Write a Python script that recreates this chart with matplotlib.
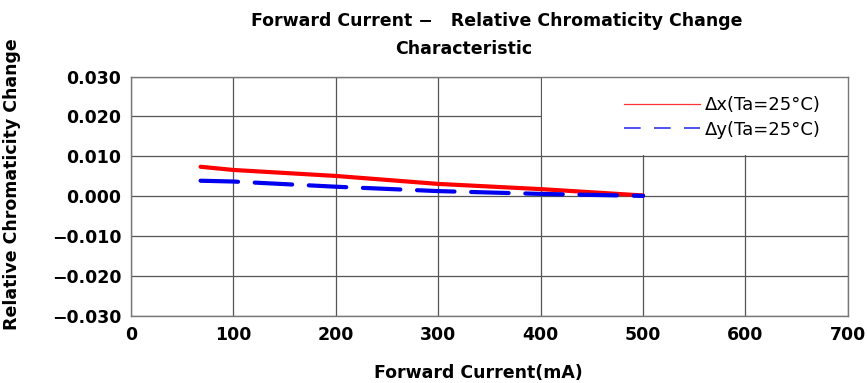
import matplotlib.pyplot as plt
from matplotlib.lines import Line2D
from matplotlib.patches import Rectangle

# forward current (mA)
current = [68, 100, 200, 300, 400, 500]

# relative chromaticity shift at Ta=25C
dx = [0.0074, 0.0066, 0.0051, 0.0031, 0.0018, 0.0002]
dy = [0.0039, 0.0037, 0.0024, 0.0013, 0.0006, 0.0001]

x_ticks = [0, 100, 200, 300, 400, 500, 600, 700]
y_ticks = [-0.030, -0.020, -0.010, 0.000, 0.010, 0.020, 0.030]
y_labels = ['\u22120.030', '\u22120.020', '\u22120.010', '0.000', '0.010', '0.020', '0.030']

plt.rcParams['font.family'] = ['DejaVu Sans']

fig = plt.figure(figsize=(8.67, 3.83), dpi=100)
ax = fig.add_axes([0.151, 0.175, 0.827, 0.625])

ax.plot(current, dx, color='#ff0000', lw=3.0, solid_capstyle='round', zorder=3)
ax.plot(current, dy, color='#0000ee', lw=3.0, dashes=(9, 4),
        dash_capstyle='round', zorder=3)

ax.set_xlim(0, 700)
ax.set_ylim(-0.030, 0.030)
ax.set_xticks(x_ticks)
ax.set_yticks(y_ticks)
ax.set_yticklabels(y_labels)
ax.tick_params(length=0, labelsize=12.5, pad=7)
for t in ax.get_xticklabels() + ax.get_yticklabels():
    t.set_fontweight('bold')

ax.set_axisbelow(True)
ax.grid(True, color='#555555', lw=0.9)
for s in ax.spines.values():
    s.set_color('#777777')
    s.set_linewidth(1.0)
    s.set_zorder(2.5)

# white box behind the legend hides the grid there
ax.add_patch(Rectangle((401.5, 0.0103), 298.5, 0.0197, facecolor='white',
                       edgecolor='none', zorder=0.7))

handles = [Line2D([], [], color='#ff3333', lw=0.9),
           Line2D([], [], color='#3333ee', lw=1.2, dashes=(10, 8))]
labels = ['\u0394x(Ta=25\u00b0C)', '\u0394y(Ta=25\u00b0C)']
leg = ax.legend(handles, labels, loc='upper right', bbox_to_anchor=(0.985, 0.985),
                frameon=False, fontsize=13, handlelength=4.2, handletextpad=0.3,
                labelspacing=0.35)

ax.set_xlabel('Forward Current(mA)', fontsize=12.5, fontweight='bold')
ax.xaxis.set_label_coords(0.485, -0.2)
ax.set_ylabel('Relative Chromaticity Change', fontsize=12.5, fontweight='bold')
ax.yaxis.set_label_coords(-0.153, 0.55)

fig.text(0.573, 0.945, 'Forward Current \u2212   Relative Chromaticity Change',
         ha='center', va='center', fontsize=12.5, fontweight='bold')
fig.text(0.535, 0.872, 'Characteristic', ha='center', va='center',
         fontsize=12.5, fontweight='bold')

fig.savefig('out.png', dpi=100)
